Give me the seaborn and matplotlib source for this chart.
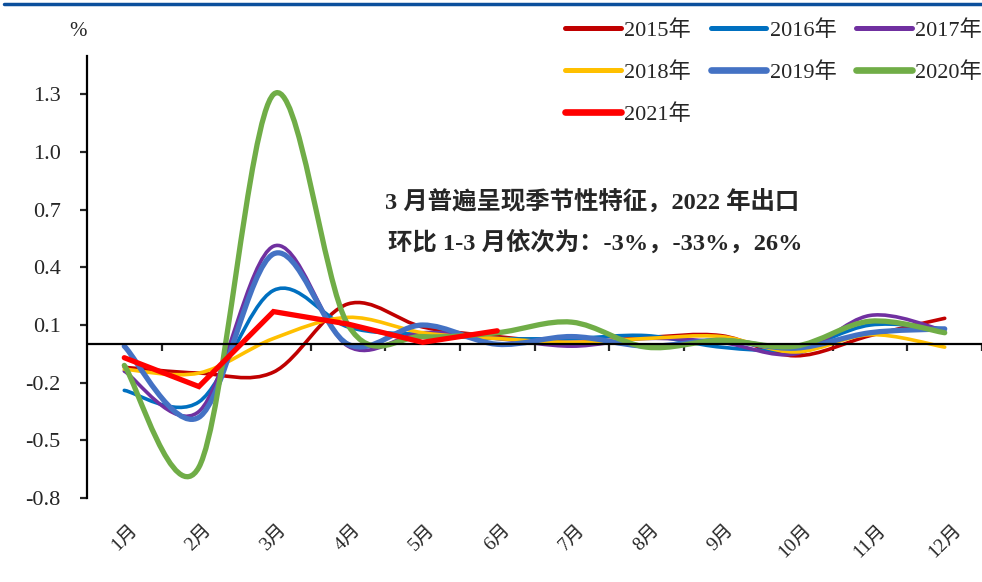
import numpy as np
import pandas as pd
import matplotlib
matplotlib.use("Agg")
import matplotlib.pyplot as plt
from matplotlib.path import Path
from matplotlib.patches import PathPatch
from matplotlib.lines import Line2D
import seaborn as sns

# month-on-month change, %
months = ["1月", "2月", "3月", "4月", "5月", "6月", "7月", "8月", "9月", "10月", "11月", "12月"]
y2015 = [-0.12, -0.15, -0.145, 0.21, 0.09, 0.04, 0.01, 0.035, 0.045, -0.06, 0.045, 0.135]
y2016 = [-0.24, -0.30, 0.28, 0.09, 0.05, 0.03, 0.03, 0.045, -0.015, -0.025, 0.10, 0.08]
y2017 = [-0.14, -0.35, 0.51, -0.01, 0.06, 0.03, -0.01, 0.03, 0.01, -0.05, 0.15, 0.07]
y2018 = [-0.13, -0.15, 0.03, 0.14, 0.06, 0.03, 0.01, 0.03, 0.04, -0.04, 0.05, -0.015]
y2019 = [-0.01, -0.38, 0.47, 0.0, 0.10, 0.0, 0.04, -0.01, 0.02, -0.02, 0.06, 0.08]
y2020 = [-0.11, -0.64, 1.30, 0.10, 0.04, 0.06, 0.115, -0.015, 0.02, -0.01, 0.12, 0.06]
y2021 = [-0.07, -0.22, 0.17, 0.105, 0.01, 0.07]

years = ["2015年", "2016年", "2017年", "2018年", "2019年", "2020年", "2021年"]
colors = ["#C00000", "#0070C0", "#7030A0", "#FFC000", "#4472C4", "#70AD47", "#FF0000"]
widths = [2.6, 2.6, 2.6, 2.6, 3.8, 3.8, 3.8]
yticks = [-0.8, -0.5, -0.2, 0.1, 0.4, 0.7, 1.0, 1.3]

sns.set_style("white")
plt.rcParams["font.family"] = ["Liberation Serif", "Noto Sans CJK SC"]

fig = plt.figure(figsize=(9.82, 5.82), dpi=100)
ax = fig.add_axes([87 / 982, 1 - 498 / 582, 1 - 87 / 982, (498 - 56) / 582])

x = np.arange(1, 13)


def smooth(xs, ys):
    # excel-style smoothed line: bezier segments through the data points
    pts = np.column_stack([xs, ys]).astype(float)
    n = len(pts)
    verts = [pts[0]]
    codes = [Path.MOVETO]
    for i in range(n - 1):
        p0 = pts[max(i - 1, 0)]
        p1 = pts[i]
        p2 = pts[i + 1]
        p3 = pts[min(i + 2, n - 1)]
        verts += [p1 + (p2 - p0) / 6, p2 - (p3 - p1) / 6, p2]
        codes += [Path.CURVE4] * 3
    return Path(verts, codes)


series = [y2015, y2016, y2017, y2018, y2019, y2020]
for vals, c, lw in zip(series, colors[:6], widths[:6]):
    ax.add_patch(PathPatch(smooth(x, vals), facecolor="none", edgecolor=c,
                           lw=lw, capstyle="round", joinstyle="round"))

df21 = pd.DataFrame({"m": x[:len(y2021)], "v": y2021})
sns.lineplot(data=df21, x="m", y="v", color=colors[6], lw=widths[6], ax=ax,
             solid_capstyle="round", solid_joinstyle="miter")

ax.set_xlim(0.5, 0.5 + 895 / 75.2)
ax.set_ylim(-0.8, 1.5)
ax.axhline(0, color="black", lw=1.6, zorder=1)

# y axis
for s in ["top", "right", "bottom"]:
    ax.spines[s].set_visible(False)
ax.spines["left"].set_linewidth(1.6)
ax.spines["left"].set_color("black")
ax.set_yticks(yticks)
ax.set_yticklabels([f"{v:.1f}" for v in yticks])
ax.tick_params(axis="y", direction="out", length=5, width=1.6, pad=14,
               labelsize=16, left=True)

# category boundary ticks on the zero line
ax.spines["bottom"].set_position(("data", 0))
ax.set_xticks(np.arange(1.5, 13, 1))
ax.set_xticklabels([])
ax.tick_params(axis="x", direction="out", length=5, width=1.6, bottom=True)
ax.set_xlabel("")
ax.set_ylabel("")

# month labels at the bottom
sec = ax.secondary_xaxis("bottom")
sec.spines["bottom"].set_visible(False)
sec.set_xticks(x)
sec.set_xticklabels(months, rotation=45, ha="center", va="top")
sec.tick_params(length=0, pad=17, labelsize=14)

# legend fills column by column, so order the entries to read row-wise
order = [0, 3, 6, 1, 4, 2, 5]
handles = [Line2D([], [], color=colors[i], lw=widths[i] + 1, solid_capstyle="round")
           for i in order]
fig.legend(handles, [years[i] for i in order], loc="upper left",
           bbox_to_anchor=(565 / 982, 1 - 20 / 582),
           ncol=3, frameon=False, fontsize=16, handlelength=2.5, handletextpad=0.15,
           columnspacing=0.9, labelspacing=0.95, borderpad=0, borderaxespad=0)

fig.text(78 / 982, 1 - 32 / 582, "%", ha="center", va="center", fontsize=15)

fig.text(385 / 982, 1 - 203 / 582, "3 月普遍呈现季节性特征，2022 年出口",
         ha="left", va="center", fontsize=17.6, fontweight="bold")
fig.text(388 / 982, 1 - 243 / 582, "环比 1-3 月依次为：-3%，-33%，26%",
         ha="left", va="center", fontsize=17.6, fontweight="bold")

fig.add_artist(Line2D([4 / 982, 1], [1 - 4 / 582, 1 - 4 / 582], color="#0B4F9C", lw=2.5))

fig.savefig("out.png", dpi=100)
